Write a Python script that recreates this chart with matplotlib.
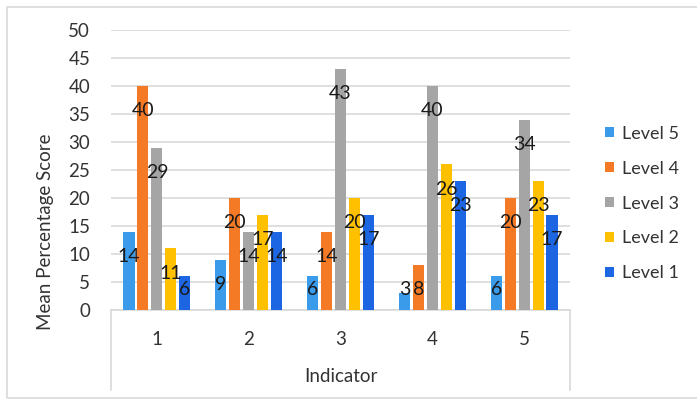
import matplotlib
matplotlib.use("Agg")
import matplotlib.pyplot as plt
from matplotlib.patches import Rectangle
from matplotlib.lines import Line2D

plt.rcParams['font.family'] = ['Lato', 'DejaVu Sans']

indicators = ["1", "2", "3", "4", "5"]
levels = ["Level 5", "Level 4", "Level 3", "Level 2", "Level 1"]
level5 = [14, 9, 6, 3, 6]
level4 = [40, 20, 14, 8, 20]
level3 = [29, 14, 43, 40, 34]
level2 = [11, 17, 20, 26, 23]
level1 = [6, 14, 17, 23, 17]
series = [level5, level4, level3, level2, level1]
colors = ["#3a9bea", "#f57a25", "#a5a5a5", "#ffc000", "#1c66e3"]

W, H = 697, 401
fig = plt.figure(figsize=(W / 100, H / 100), dpi=100)
ax = fig.add_axes([111 / W, 1 - 310 / H, (570 - 111) / W, 280 / H])

xs = list(range(1, len(indicators) + 1))
step = 0.152
width = 0.12
for i, (vals, lab, col) in enumerate(zip(series, levels, colors)):
    off = (i - 2) * step
    pos = [x + off for x in xs]
    ax.bar(pos, vals, width=width, color=col, label=lab, zorder=3)
    for p, v in zip(pos, vals):
        ax.text(p, max(v - 4.4, 3.6), str(v), ha="center", va="center",
                fontsize=14, color="#1a1a1a", zorder=4)

ax.set_xlim(0.5, 5.5)
ax.set_ylim(0, 50)
ax.set_yticks(range(0, 51, 5))
ax.set_xticks(xs)
ax.set_xticklabels(indicators)
ax.tick_params(axis="y", length=0, pad=15, labelsize=13.5, labelcolor="#333333")
ax.tick_params(axis="x", length=0, pad=15, labelsize=13.5, labelcolor="#333333")
ax.grid(axis="y", color="#d9d9d9", linewidth=1.2, zorder=0)
for s in ["top", "right", "left"]:
    ax.spines[s].set_visible(False)
ax.spines["bottom"].set_color("#d9d9d9")
ax.spines["bottom"].set_linewidth(1.2)

# category axis box lines
fig.add_artist(Line2D([111 / W, 111 / W], [1 - 310 / H, 1 - 390 / H], color="#d9d9d9", lw=1.2))
fig.add_artist(Line2D([570 / W, 570 / W], [1 - 310 / H, 1 - 390 / H], color="#d9d9d9", lw=1.2))

fig.text(341 / W, 1 - 377 / H, "Indicator", ha="center", va="center", fontsize=13.5, color="#333333")
fig.text(46 / W, 1 - 232 / H, "Mean Percentage Score", ha="center", va="center",
         rotation=90, fontsize=13.5, color="#333333")

# outer chart border (right edge lies outside the image)
fig.add_artist(Rectangle((7 / W, 1 - 398 / H), 800 / W, 391 / H, fill=False,
                         edgecolor="#d9d9d9", lw=1.2, transform=fig.transFigure))

leg = fig.legend(loc="center left", bbox_to_anchor=(605 / W, 1 - 203.5 / H),
                 frameon=False, fontsize=13, handlelength=0.5, handleheight=0.5,
                 handletextpad=0.45, labelspacing=1.05, borderpad=0, borderaxespad=0)
for t in leg.get_texts():
    t.set_color("#333333")

fig.savefig("out.png", dpi=100)
